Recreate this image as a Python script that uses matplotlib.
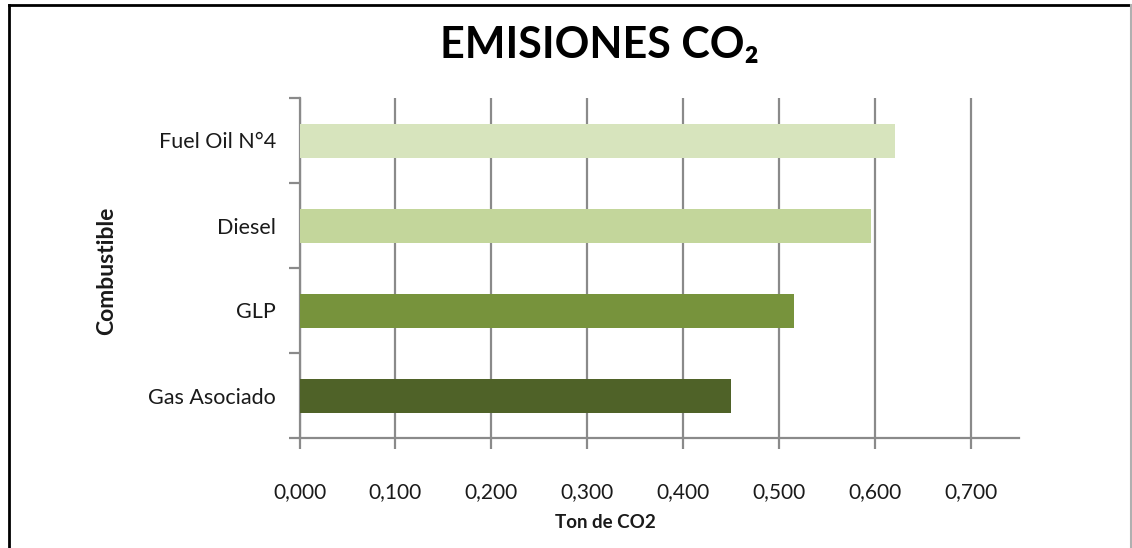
import matplotlib
matplotlib.use("Agg")
import matplotlib.pyplot as plt
from matplotlib.lines import Line2D

categories = ["Gas Asociado", "GLP", "Diesel", "Fuel Oil N°4"]
values = [0.450, 0.515, 0.596, 0.621]
colors = ["#4F6228", "#77933C", "#C3D69B", "#D7E4BD"]
xticks = [0.0, 0.1, 0.2, 0.3, 0.4, 0.5, 0.6, 0.7]
xticklabels = ["0,000", "0,100", "0,200", "0,300", "0,400", "0,500", "0,600", "0,700"]

plt.rcParams["font.family"] = ["Lato", "DejaVu Sans"]

W, H = 1132, 548
fig = plt.figure(figsize=(W / 100, H / 100), dpi=100)
fig.patch.set_facecolor("white")

ax = fig.add_axes([299.5 / W, 1 - 438 / H, (1019 - 299.5) / W, (438 - 98) / H])
ypos = list(range(len(categories)))
ax.barh(ypos, values, height=0.4, color=colors, edgecolor="none", zorder=3)
ax.set_xlim(0, 0.75)
ax.set_ylim(-0.5, len(categories) - 0.5)

ax.set_xticks(xticks)
ax.set_xticklabels(xticklabels, fontsize=15, color="#1a1a1a")
ax.set_yticks(ypos)
ax.set_yticklabels(categories, fontsize=15.5, color="#1a1a1a")
ax.set_yticks([i - 0.5 for i in range(len(categories) + 1)], minor=True)

ax.grid(axis="x", color="#8a8a8a", linewidth=1.6, zorder=0)
ax.set_axisbelow(True)
for s in ["top", "right"]:
    ax.spines[s].set_visible(False)
for s in ["left", "bottom"]:
    ax.spines[s].set_color("#8a8a8a")
    ax.spines[s].set_linewidth(1.6)

ax.tick_params(axis="x", which="major", length=8, width=1.6, color="#8a8a8a", pad=24)
ax.tick_params(axis="y", which="major", length=0, pad=17)
ax.tick_params(axis="y", which="minor", length=8, width=1.6, color="#8a8a8a")

ax.set_xlabel("Ton de CO2", fontsize=13.5, fontweight="bold", color="#1a1a1a")
ax.xaxis.set_label_coords((605 - 299.5) / (1019 - 299.5), -(522 - 438) / (438 - 98))
ax.xaxis.label.set_va("center")
ax.set_ylabel("Combustible", fontsize=16.5, fontweight="bold", color="#1a1a1a")
ax.yaxis.set_label_coords(-(299.5 - 107) / (1019 - 299.5), (438 - 271) / (438 - 98))
ax.yaxis.label.set_va("center")

fig.text(599 / W, 1 - 45 / H, "EMISIONES CO₂", fontsize=31, fontweight="bold",
         ha="center", va="center", color="black")

# chart frame
fig.add_artist(Line2D([9 / W, 9 / W], [0, 1 - 5 / H], transform=fig.transFigure, color="black", linewidth=2))
fig.add_artist(Line2D([9 / W, 1131 / W], [1 - 5 / H, 1 - 5 / H], transform=fig.transFigure, color="black", linewidth=2))
fig.add_artist(Line2D([1131 / W, 1131 / W], [0, 1 - 5 / H], transform=fig.transFigure, color="#b0b0b0", linewidth=1.5))

fig.savefig("out.png", dpi=100)
